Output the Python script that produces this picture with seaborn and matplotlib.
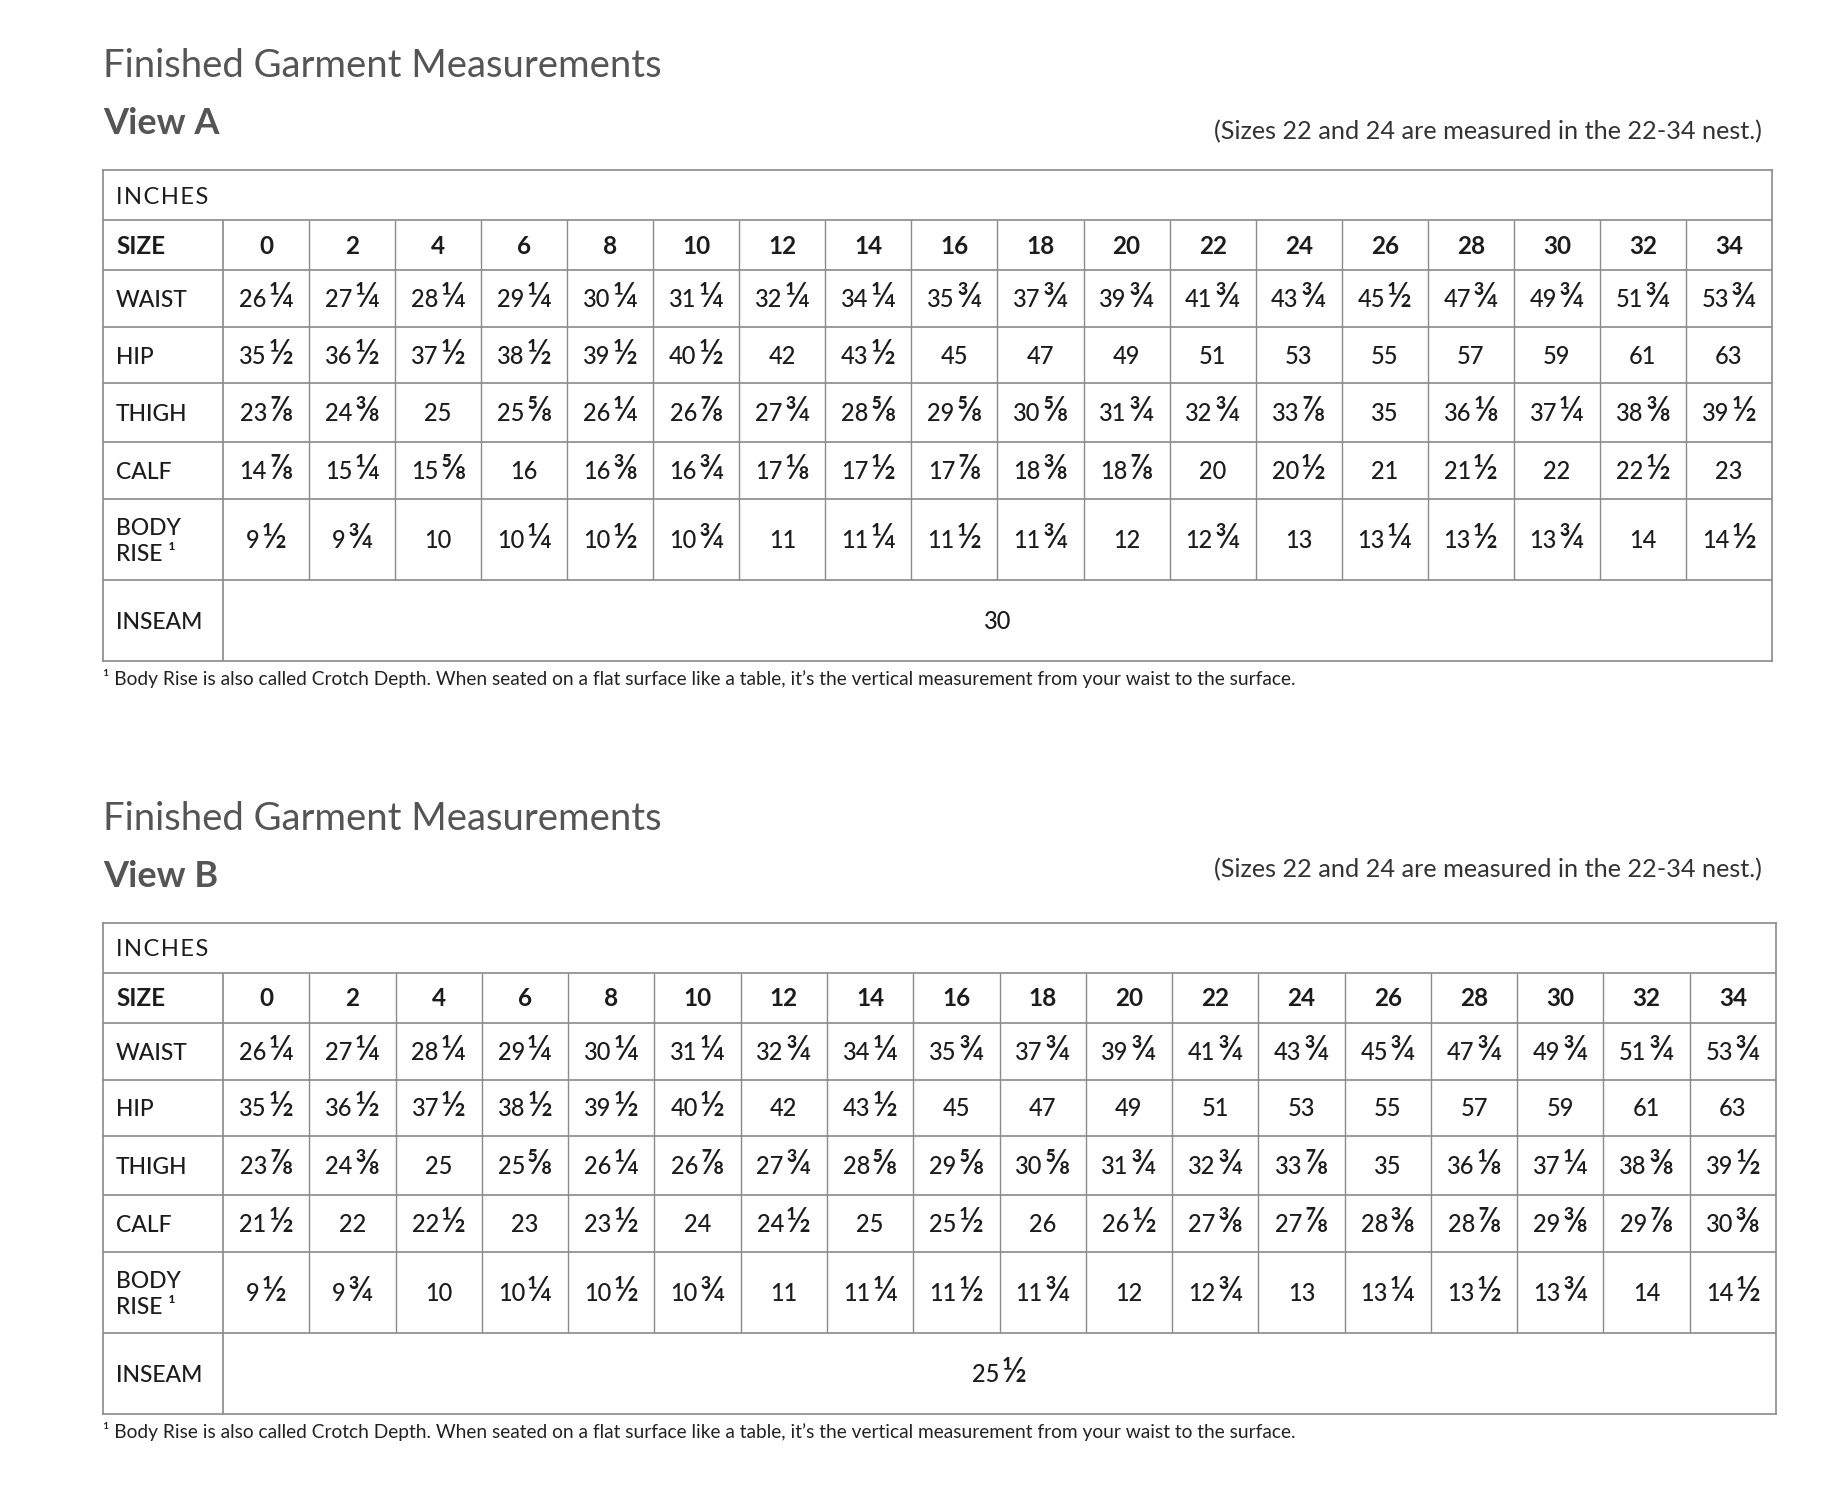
import numpy as np
import matplotlib.pyplot as plt
import seaborn as sns

sns.set_theme(style="white")
plt.rcParams['font.family'] = ['Lato', 'DejaVu Sans']

# --- data ---
sizes = ["0", "2", "4", "6", "8", "10", "12", "14", "16", "18",
         "20", "22", "24", "26", "28", "30", "32", "34"]
row_labels = ["WAIST", "HIP", "THIGH", "CALF", "BODY\nRISE ¹"]

waist_a = ["26¼", "27¼", "28¼", "29¼", "30¼", "31¼", "32¼", "34¼", "35¾",
           "37¾", "39¾", "41¾", "43¾", "45½", "47¾", "49¾", "51¾", "53¾"]
waist_b = ["26¼", "27¼", "28¼", "29¼", "30¼", "31¼", "32¾", "34¼", "35¾",
           "37¾", "39¾", "41¾", "43¾", "45¾", "47¾", "49¾", "51¾", "53¾"]
hip = ["35½", "36½", "37½", "38½", "39½", "40½", "42", "43½", "45",
       "47", "49", "51", "53", "55", "57", "59", "61", "63"]
thigh = ["23⅞", "24⅜", "25", "25⅝", "26¼", "26⅞", "27¾", "28⅝", "29⅝",
         "30⅝", "31¾", "32¾", "33⅞", "35", "36⅛", "37¼", "38⅜", "39½"]
calf_a = ["14⅞", "15¼", "15⅝", "16", "16⅜", "16¾", "17⅛", "17½", "17⅞",
          "18⅜", "18⅞", "20", "20½", "21", "21½", "22", "22½", "23"]
calf_b = ["21½", "22", "22½", "23", "23½", "24", "24½", "25", "25½",
          "26", "26½", "27⅜", "27⅞", "28⅜", "28⅞", "29⅜", "29⅞", "30⅜"]
body_rise = ["9½", "9¾", "10", "10¼", "10½", "10¾", "11", "11¼", "11½",
             "11¾", "12", "12¾", "13", "13¼", "13½", "13¾", "14", "14½"]
inseam_a = "30"
inseam_b = "25½"

title = "Finished Garment Measurements"
note = "(Sizes 22 and 24 are measured in the 22-34 nest.)"
footnote = ("¹ Body Rise is also called Crotch Depth. When seated on a flat surface like a table, "
            "it’s the vertical measurement from your waist to the surface.")

# --- layout (pixels) ---
W, H = 1836, 1498
row_h = [50, 50, 57, 56, 59, 57, 81, 81]
left, label_right = 103, 223
line_col = "#8a8a8a"
txt_col = "#1c1c1c"
FRACS = "¼½¾⅛⅜⅝⅞"

fig = plt.figure(figsize=(W / 100, H / 100), dpi=100)
renderer = fig.canvas.get_renderer()


def put_value(ax, xc, yc, s, colw, size=17, weight="medium"):
    """integer part + enlarged fraction glyph, centred together in the cell"""
    ip, fr = s, ""
    if s and s[-1] in FRACS:
        ip, fr = s[:-1], s[-1]
    base = yc + 8.5
    t1 = ax.text(xc, base, ip, ha="left", va="baseline", fontsize=size,
                 fontweight=weight, color=txt_col)
    w1 = t1.get_window_extent(renderer).width if ip else 0
    w2, gap = 0, 0
    t2 = None
    if fr:
        t2 = ax.text(xc, base, fr, ha="left", va="baseline", fontsize=size * 1.45,
                     fontweight=weight, color=txt_col)
        w2 = t2.get_window_extent(renderer).width
        gap = 2 if ip else 0
    start = -(w1 + gap + w2) / 2
    t1.set_x(xc + start / colw)
    if t2 is not None:
        t2.set_x(xc + (start + w1 + gap) / colw)


def draw_view(name, top, right, waist, calf, inseam, note_base):
    tot = sum(row_h)
    ax = fig.add_axes([left / W, 1 - (top + tot) / H, (right - left) / W, tot / H])
    colw = (right - label_right) / len(sizes)
    lw = (label_right - left) / colw
    ax.set_xlim(-lw, len(sizes))
    ax.set_ylim(tot, 0)
    ax.set_xticks([])
    ax.set_yticks([])
    for s in ax.spines.values():
        s.set_color(line_col)
        s.set_linewidth(1.2)

    edges = np.concatenate([[0], np.cumsum(row_h)])
    mids = (edges[:-1] + edges[1:]) / 2
    ax.hlines(edges[1:-1], -lw, len(sizes), color=line_col, lw=1.2)
    ax.vlines(0, edges[1], edges[-1], color=line_col, lw=1.2)
    ax.vlines(np.arange(1, len(sizes)), edges[1], edges[-2], color=line_col, lw=1.0)

    pad = -lw + 13 / colw
    ax.text(pad, mids[0] + 8.5, "I\u200aN\u200aC\u200aH\u200aE\u200aS", ha="left",
            va="baseline", fontsize=17, color=txt_col)
    ax.text(pad, mids[1] + 8.5, "SIZE", ha="left", va="baseline", fontsize=17.5,
            fontweight="bold", color=txt_col)
    for j, s in enumerate(sizes):
        ax.text(j + 0.5, mids[1] + 8.5, s, ha="center", va="baseline", fontsize=17.5,
                fontweight="bold", color=txt_col)

    rows = [waist, hip, thigh, calf, body_rise]
    for i, (lab, vals) in enumerate(zip(row_labels, rows)):
        y = mids[i + 2]
        ax.text(pad, y + 2, lab, ha="left", va="center", fontsize=16.5,
                fontweight="medium", color=txt_col, linespacing=1.35)
        for j, v in enumerate(vals):
            put_value(ax, j + 0.5, y, v, colw)

    ax.text(pad, mids[-1] + 8.5, "INSEAM", ha="left", va="baseline", fontsize=16.5,
            fontweight="medium", color=txt_col)
    put_value(ax, len(sizes) / 2, mids[-1], inseam, colw)

    fig.text(left / W, 1 - (top - 93) / H, title, ha="left", va="baseline",
             fontsize=27.5, color="#555555")
    fig.text(left / W, 1 - (top - 36) / H, name, ha="left", va="baseline",
             fontsize=26, fontweight="bold", color="#555555")
    fig.text(1762 / W, 1 - note_base / H, note, ha="right", va="baseline",
             fontsize=18.2, color="#333333")
    fig.text(left / W, 1 - (top + tot + 24) / H, footnote, ha="left", va="baseline",
             fontsize=13.8, color="#222222")


draw_view("View A", 170, 1772, waist_a, calf_a, inseam_a, 139)
draw_view("View B", 923, 1776, waist_b, calf_b, inseam_b, 877)

fig.savefig("out.png", dpi=100, facecolor="white")
